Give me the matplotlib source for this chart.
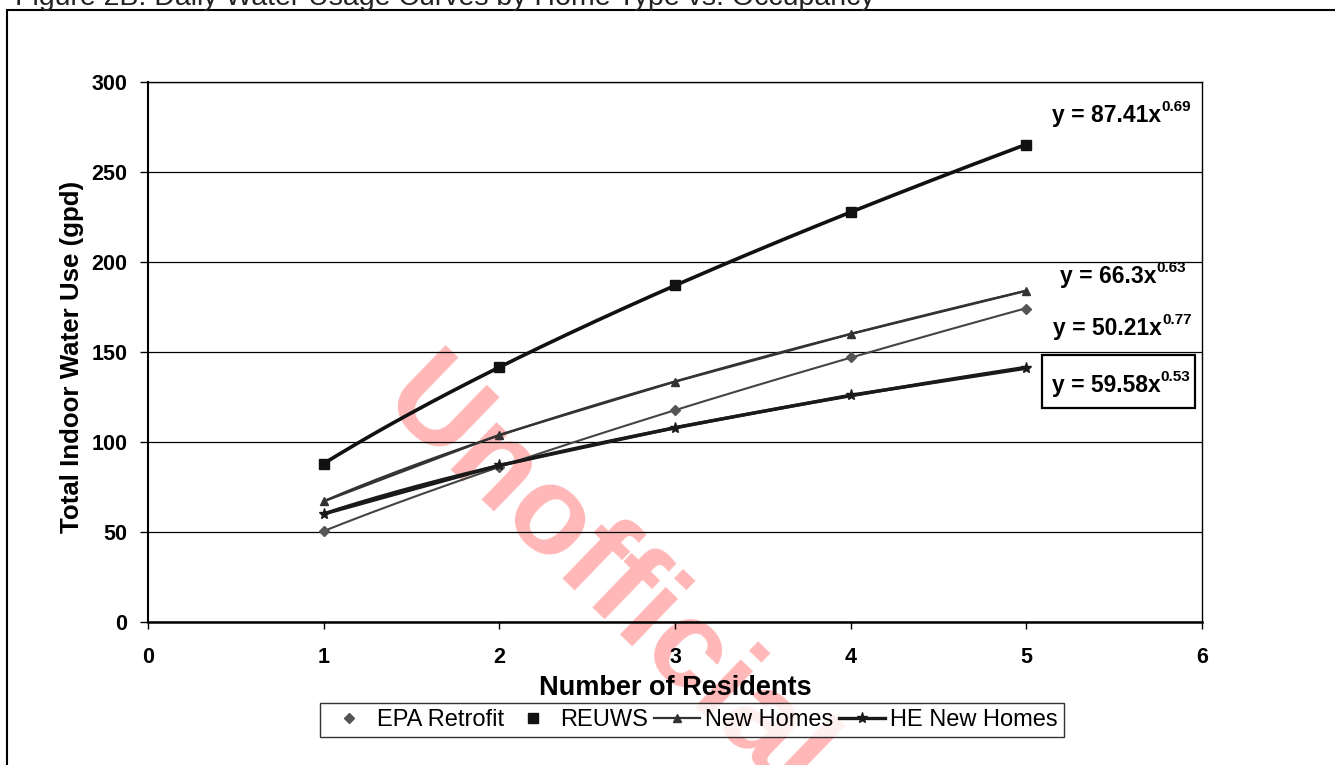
import matplotlib.pyplot as plt
import numpy as np
from matplotlib.patches import Rectangle

plt.rcParams['font.family'] = ['Liberation Sans', 'DejaVu Sans']

# --- Données ---
residents = [1, 2, 3, 4, 5]
epa_retrofit = [50.5, 86, 118, 147, 174]
reuws = [88, 141.5, 187, 228, 265]
new_homes = [67, 104, 133.5, 160, 184]
he_new_homes = [60, 87, 108, 126, 141]
eq_coef = ["87.41", "66.3", "50.21", "59.58"]
eq_expo = ["0.69", "0.63", "0.77", "0.53"]

fig = plt.figure(figsize=(13.35, 7.65), dpi=100)
ax = fig.add_axes([148 / 1335, 1 - 622 / 765, (1202 - 148) / 1335, (622 - 82) / 765])
ax.set_facecolor('none')

x = np.array(residents, dtype=float)
xs = np.linspace(1, 5, 200)


def trend(y):
    # courbe de tendance puissance (comme Excel)
    b, a = np.polyfit(np.log(x), np.log(np.array(y, dtype=float)), 1)
    return np.exp(a) * xs ** b


# courbes de tendance
ax.plot(xs, trend(reuws), color='#111111', lw=2.6, zorder=3)
ax.plot(xs, trend(new_homes), color='#333333', lw=1.6, zorder=3)
ax.plot(xs, trend(epa_retrofit), color='#444444', lw=1.5, zorder=3)
ax.plot(xs, trend(he_new_homes), color='#1a1a1a', lw=2.4, zorder=3)

# séries
ax.plot(x, epa_retrofit, 'D', color='#555555', ms=5, ls='none', label='EPA Retrofit', zorder=4)
ax.plot(x, reuws, 's', color='#111111', ms=7, ls='none', label='REUWS', zorder=4)
ax.plot(x, new_homes, '^', color='#333333', ms=6, ls='-', lw=1.6, label='New Homes', zorder=4)
ax.plot(x, he_new_homes, '*', color='#1a1a1a', ms=8, ls='-', lw=2.4, label='HE New Homes', zorder=4)

ax.set_xlim(0, 6)
ax.set_ylim(0, 300)
ax.set_xticks(range(0, 7))
ax.set_yticks(range(0, 301, 50))
ax.yaxis.grid(True, color='black', lw=0.9)
ax.set_axisbelow(True)
for s in ax.spines.values():
    s.set_linewidth(1.0)
ax.spines['left'].set_linewidth(1.5)
ax.spines['bottom'].set_linewidth(1.8)
ax.tick_params(axis='y', direction='out', length=6, width=1, pad=9)
ax.tick_params(axis='x', direction='out', length=5, width=1, pad=13)
for lab in ax.get_xticklabels() + ax.get_yticklabels():
    lab.set_fontweight('bold')
    lab.set_fontsize(15.5)

ax.set_xlabel('Number of Residents', fontsize=19.5, fontweight='bold', labelpad=5)
ax.set_ylabel('Total Indoor Water Use (gpd)', fontsize=18.6, fontweight='bold')
ax.yaxis.set_label_coords(-0.061, 0.491)

# équations des courbes (texte + exposant)
eq_pos = [(5.146, 277.8), (5.192, 188.3), (5.152, 159.4), (5.146, 127.8)]
for coef, expo, (ex, ey) in zip(eq_coef, eq_expo, eq_pos):
    t = ax.text(ex, ey, 'y = %sx' % coef, fontsize=16.5, fontweight='bold',
                ha='left', va='baseline', zorder=6)
    ax.annotate(expo, xy=(1, 0), xycoords=t, xytext=(0, 16), textcoords='offset pixels',
                fontsize=11, fontweight='bold', ha='left', va='baseline', zorder=6)
ax.add_patch(Rectangle((5.089, 118.9), 0.871, 29.4, fill=False, ec='black', lw=1.6,
                       clip_on=False, zorder=5))

leg = ax.legend(loc='upper center', bbox_to_anchor=(0.516, -0.150), ncol=4, frameon=True,
                fancybox=False, edgecolor='black', fontsize=17, handlelength=1.95,
                columnspacing=0.25, handletextpad=0.2, borderpad=0.25, borderaxespad=0)
leg.get_frame().set_linewidth(1.0)

# titre coupé en haut
fig.text(0.011, 1 - 5 / 765, 'Figure 2B: Daily Water Usage Curves by Home Type vs. Occupancy',
         fontsize=20.5, ha='left', va='baseline', color='#222222')

# cadre extérieur
fig.patches.append(Rectangle((7 / 1335, -0.05), 1.1, 1 - 10 / 765 + 0.05,
                             transform=fig.transFigure, fill=False, ec='black', lw=1.5))

# filigrane
fig.text(0.453, 0.24, 'Unofficial', fontsize=90, fontweight='bold', color='#ff3030',
         alpha=0.35, rotation=-44, rotation_mode='anchor', ha='center', va='center', zorder=-1)

fig.savefig('out.png', dpi=100)
